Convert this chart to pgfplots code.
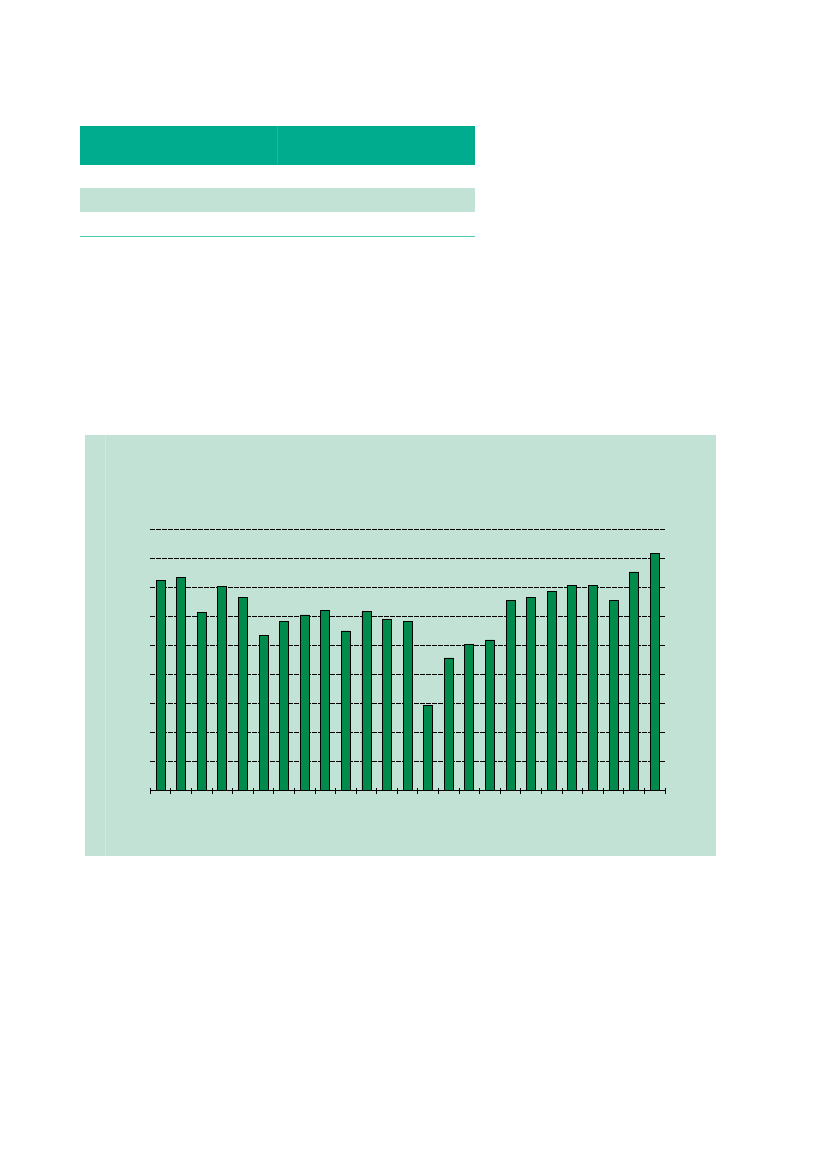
\documentclass[border=0pt]{standalone}
\usepackage{pgfplots}
\pgfplotsset{compat=1.18}
\definecolor{panel}{HTML}{C1E2D4}
\definecolor{header}{HTML}{00AC8E}
\definecolor{rule}{HTML}{4FCAB3}
\definecolor{bargreen}{HTML}{008A4C}
\begin{document}
\begin{tikzpicture}
    % page (827 x 1169, 1px = 1pt), y measured from the bottom
    \fill[white] (0pt,0pt) rectangle (827pt,1169pt);
    % table block at the top
    \fill[header] (80.3pt,1043pt) rectangle (475pt,1004.3pt);
    \fill[panel] (80.3pt,980.7pt) rectangle (475pt,957.3pt);
    \draw[white,opacity=0.12,line width=0.8pt] (277pt,1043pt) -- (277pt,1004.3pt);
    \draw[rule,line width=1pt] (80pt,932.7pt) -- (475pt,932.7pt);
    % chart panel
    \fill[panel] (85.3pt,734pt) rectangle (715.7pt,313.3pt);
    \draw[white,opacity=0.25,line width=0.8pt] (105.3pt,734pt) -- (105.3pt,313.3pt);
    \begin{axis}[
            at={(150.3pt,378.3pt)},
            anchor=south west,
            scale only axis,
            width=514.7pt,
            height=261.4pt,
            xmin=-0.5, xmax=24.5,
            ymin=0, ymax=9,
            axis x line*=bottom,
            axis y line*=left,
            y axis line style={draw=none},
            x axis line style={black,line width=0.9pt},
            xtick={-0.5,0.5,...,24.5},
            xticklabels={},
            ytick={0,1,...,9},
            yticklabels={},
            ytick style={draw=none},
            xtick style={black,line width=0.9pt},
            tick align=center,
            major tick length=6pt,
            ymajorgrids,
            major grid style={black,line width=0.9pt,dash pattern=on 5pt off 1pt},
        ]
        \addplot[ybar,bar width=9pt,fill=bargreen,draw=black,line width=0.9pt] coordinates {
            (0,  7.23)
            (1,  7.33)
            (2,  6.12)
            (3,  7.02)
            (4,  6.64)
            (5,  5.36)
            (6,  5.81)
            (7,  6.05)
            (8,  6.19)
            (9,  5.50)
            (10, 6.16)
            (11, 5.91)
            (12, 5.81)
            (13, 2.95)
            (14, 4.57)
            (15, 5.05)
            (16, 5.19)
            (17, 6.54)
            (18, 6.64)
            (19, 6.85)
            (20, 7.06)
            (21, 7.08)
            (22, 6.54)
            (23, 7.53)
            (24, 8.17)
        };
    \end{axis}
\end{tikzpicture}
\end{document}
